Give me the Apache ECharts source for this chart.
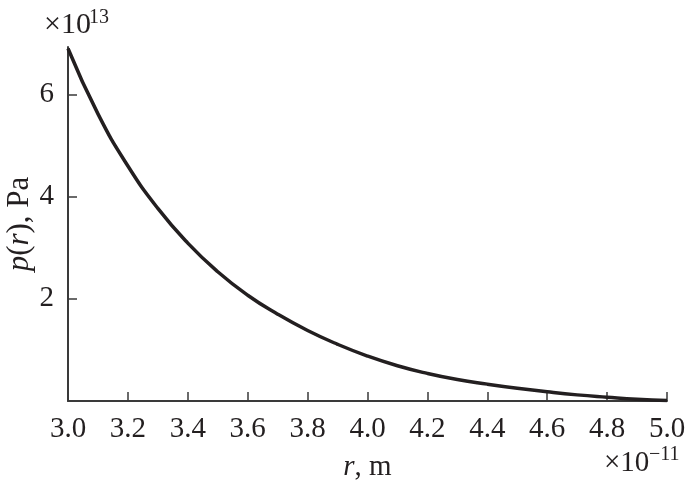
<!DOCTYPE html>
<html>
<head>
<meta charset="utf-8">
<script src="https://cdn.jsdelivr.net/npm/echarts@6/dist/echarts.min.js"></script>
<style>html,body{margin:0;padding:0;background:#fff}#c{width:685px;height:480px}</style>
</head>
<body>
<div id="c"></div>
<script>
// r in units of 1e-11 m
var rValues = [3.0, 3.1, 3.2, 3.3, 3.4, 3.5, 3.6, 3.7, 3.8, 3.9, 4.0, 4.1, 4.2, 4.3, 4.4, 4.5, 4.6, 4.7, 4.8, 4.9, 5.0];
// p(r) in units of 1e13 Pa
var pValues = [6.9, 5.62, 4.60, 3.77, 3.09, 2.53, 2.07, 1.70, 1.38, 1.11, 0.88, 0.69, 0.54, 0.42, 0.33, 0.25, 0.18, 0.12, 0.075, 0.035, 0.01];
var xTicks = [3.0, 3.2, 3.4, 3.6, 3.8, 4.0, 4.2, 4.4, 4.6, 4.8, 5.0];
var yTicks = [2, 4, 6];

var font = '"Liberation Serif", "Times New Roman", Times, serif';
var ink = '#231f20';
var chart = echarts.init(document.getElementById('c'), null, {renderer: 'canvas'});
var data = rValues.map(function (r, i) { return [r, pValues[i]]; });

chart.setOption({
  animation: false,
  backgroundColor: '#fff',
  grid: {left: 68, right: 18, top: 47, bottom: 79, containLabel: false, outerBoundsMode: 'none'},
  xAxis: {
    type: 'value', min: 3.0, max: 5.0, interval: 0.2,
    axisLine: {show: true, onZero: false, lineStyle: {color: '#3a3a3a', width: 2}},
    axisTick: {show: true, inside: true, length: 9, customValues: xTicks, lineStyle: {color: '#3a3a3a', width: 1.5}},
    axisLabel: {customValues: xTicks, margin: 14, fontFamily: font, fontSize: 29, color: ink,
      formatter: function (v) { return v.toFixed(1); }},
    splitLine: {show: false},
    name: '{i|r}, m', nameLocation: 'middle', nameGap: 52, nameMoveOverlap: false,
    nameTextStyle: {fontFamily: font, fontSize: 29, color: ink, rich: {i: {fontFamily: font, fontSize: 29, fontStyle: 'italic', color: ink}}}
  },
  yAxis: {
    type: 'value', min: 0, max: 6.93,
    axisLine: {show: true, onZero: false, lineStyle: {color: '#3a3a3a', width: 2}},
    axisTick: {show: true, inside: true, length: 9, customValues: yTicks, lineStyle: {color: '#3a3a3a', width: 1.5}},
    axisLabel: {customValues: yTicks, margin: 14, fontFamily: font, fontSize: 29, color: ink},
    splitLine: {show: false},
    name: '{i|p}({i|r}), Pa', nameLocation: 'middle', nameGap: 33, nameRotate: 90, nameMoveOverlap: false,
    nameTextStyle: {fontFamily: font, fontSize: 31, color: ink, rich: {i: {fontFamily: font, fontSize: 31, fontStyle: 'italic', color: ink}}}
  },
  series: [{
    type: 'line', data: data, smooth: 0.5, showSymbol: false, symbol: 'none',
    lineStyle: {color: ink, width: 3.5}
  }],
  graphic: [
    {type: 'text', left: 44, top: 10, style: {text: '×10', fontFamily: font, fontSize: 30, fill: ink}},
    {type: 'text', left: 89, top: 8, style: {text: '13', fontFamily: font, fontSize: 20, fill: ink}},
    {type: 'text', left: 604, top: 449, style: {text: '×10', fontFamily: font, fontSize: 29, fill: ink}},
    {type: 'text', left: 649, top: 445, style: {text: '−11', fontFamily: font, fontSize: 20, fill: ink}}
  ]
});
</script>
</body>
</html>
